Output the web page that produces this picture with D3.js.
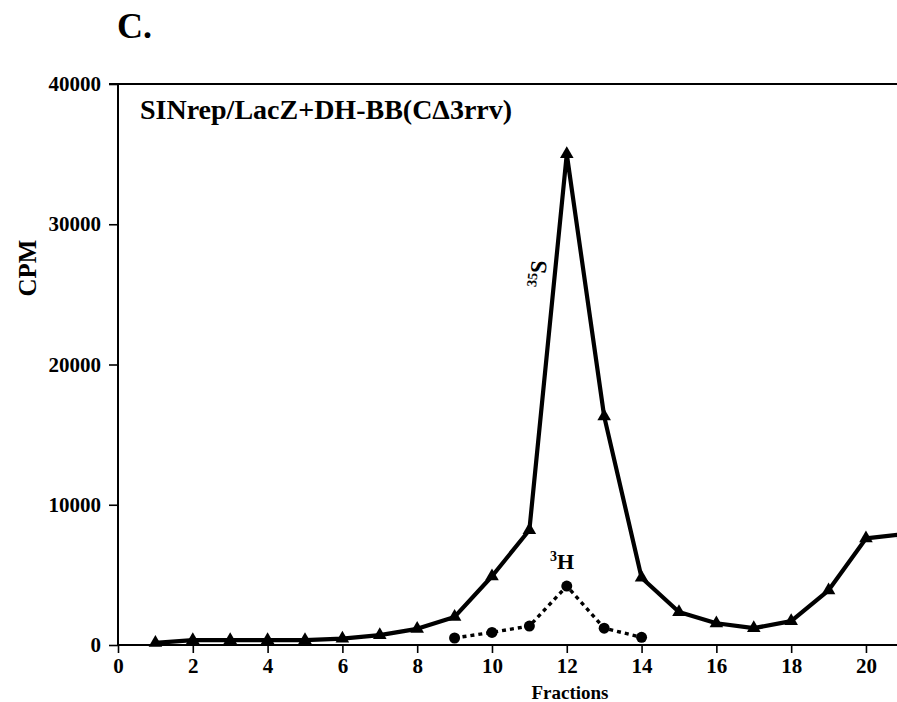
<!DOCTYPE html>
<html>
<head>
<meta charset="utf-8">
<script src="https://cdn.jsdelivr.net/npm/d3@7"></script>
<style>
  body { margin: 0; background: #fff; }
  svg text { font-family: 'Liberation Serif', 'Times New Roman', serif; font-weight: bold; fill: #000; }
</style>
</head>
<body>
<div id="chart"></div>
<script>
// fractions and counts
const fractions = [1, 2, 3, 4, 5, 6, 7, 8, 9, 10, 11, 12, 13, 14, 15, 16, 17, 18, 19, 20, 21]
const s35 = [150, 350, 350, 350, 350, 450, 700, 1150, 2000, 4900, 8200, 35000, 16300, 4800, 2350, 1550, 1200, 1700, 3900, 7600, 7900]
const h3Fractions = [9, 10, 11, 12, 13, 14]
const h3 = [500, 900, 1350, 4200, 1200, 550]
const xTicks = [0, 2, 4, 6, 8, 10, 12, 14, 16, 18, 20]
const yTicks = [0, 10000, 20000, 30000, 40000]

const width = 897, height = 702
const m = { top: 84, right: 0, bottom: 57, left: 118 }

const svg = d3.select('#chart').append('svg')
  .attr('width', width).attr('height', height)

const x = d3.scaleLinear().domain([0, 20.83]).range([m.left, width - m.right])
const y = d3.scaleLinear().domain([0, 40000]).range([height - m.bottom, m.top])

svg.append('defs').append('clipPath').attr('id', 'clip')
  .append('rect').attr('x', m.left).attr('y', 0).attr('width', width - m.left).attr('height', height)

// axes
const xAxis = svg.append('g')
  .attr('transform', `translate(0,${y(0)})`)
  .call(d3.axisBottom(x).tickValues(xTicks).tickSize(8).tickPadding(5).tickFormat(d3.format('d')))
const yAxis = svg.append('g')
  .attr('transform', `translate(${m.left},0)`)
  .call(d3.axisLeft(y).tickValues(yTicks).tickSize(9).tickPadding(8).tickFormat(d3.format('d')))

for (const g of [xAxis, yAxis]) {
  g.select('.domain').attr('stroke-width', 2).attr('stroke', '#000')
  g.selectAll('.tick line').attr('stroke-width', 1.6).attr('stroke', '#000')
  g.selectAll('.tick text').style('font-size', '21px').attr('fill', '#000')
}
xAxis.select('.domain').attr('d', `M${m.left},0H${width}`)
yAxis.select('.domain').attr('d', `M0,${y(40000)}V${y(0)}`)

// top frame line
svg.append('line')
  .attr('x1', m.left - 9).attr('x2', width)
  .attr('y1', y(40000)).attr('y2', y(40000))
  .attr('stroke', '#000').attr('stroke-width', 2)

const plot = svg.append('g').attr('clip-path', 'url(#clip)')

const line = d3.line().x(d => x(d[0])).y(d => y(d[1]))

const sData = fractions.map((f, i) => [f, s35[i]])
const hData = h3Fractions.map((f, i) => [f, h3[i]])

plot.append('path').datum(sData)
  .attr('d', line).attr('fill', 'none')
  .attr('stroke', '#000').attr('stroke-width', 4.2).attr('stroke-linejoin', 'round')

plot.selectAll('.tri').data(sData).join('path')
  .attr('class', 'tri')
  .attr('transform', d => `translate(${x(d[0])},${y(d[1])})`)
  .attr('d', d3.symbol(d3.symbolTriangle, 80))
  .attr('fill', '#000')

plot.append('path').datum(hData)
  .attr('d', line).attr('fill', 'none')
  .attr('stroke', '#000').attr('stroke-width', 3.4).attr('stroke-dasharray', '4,4')

plot.selectAll('.dot').data(hData).join('circle')
  .attr('class', 'dot')
  .attr('cx', d => x(d[0])).attr('cy', d => y(d[1])).attr('r', 5.5)
  .attr('fill', '#000')

// labels
svg.append('text').attr('x', 117).attr('y', 38).style('font-size', '36px').text('C.')

svg.append('text').attr('x', 140).attr('y', 119).style('font-size', '28px')
  .text('SINrep/LacZ+DH-BB(CΔ3rrv)')

svg.append('text')
  .attr('transform', `translate(36,268) rotate(-90)`)
  .attr('text-anchor', 'middle').style('font-size', '25px').text('CPM')

svg.append('text').attr('x', 570).attr('y', 699)
  .attr('text-anchor', 'middle').style('font-size', '19px').text('Fractions')

const sLab = svg.append('text')
  .attr('transform', `translate(544,288) rotate(-84)`)
  .style('font-size', '23px')
sLab.append('tspan').attr('dy', -8).style('font-size', '14px').text('35')
sLab.append('tspan').attr('dy', 8).text('S')

const hLab = svg.append('text').attr('x', 550).attr('y', 569).style('font-size', '22px')
hLab.append('tspan').attr('dy', -8).style('font-size', '14px').text('3')
hLab.append('tspan').attr('dy', 8).text('H')
</script>
</body>
</html>
